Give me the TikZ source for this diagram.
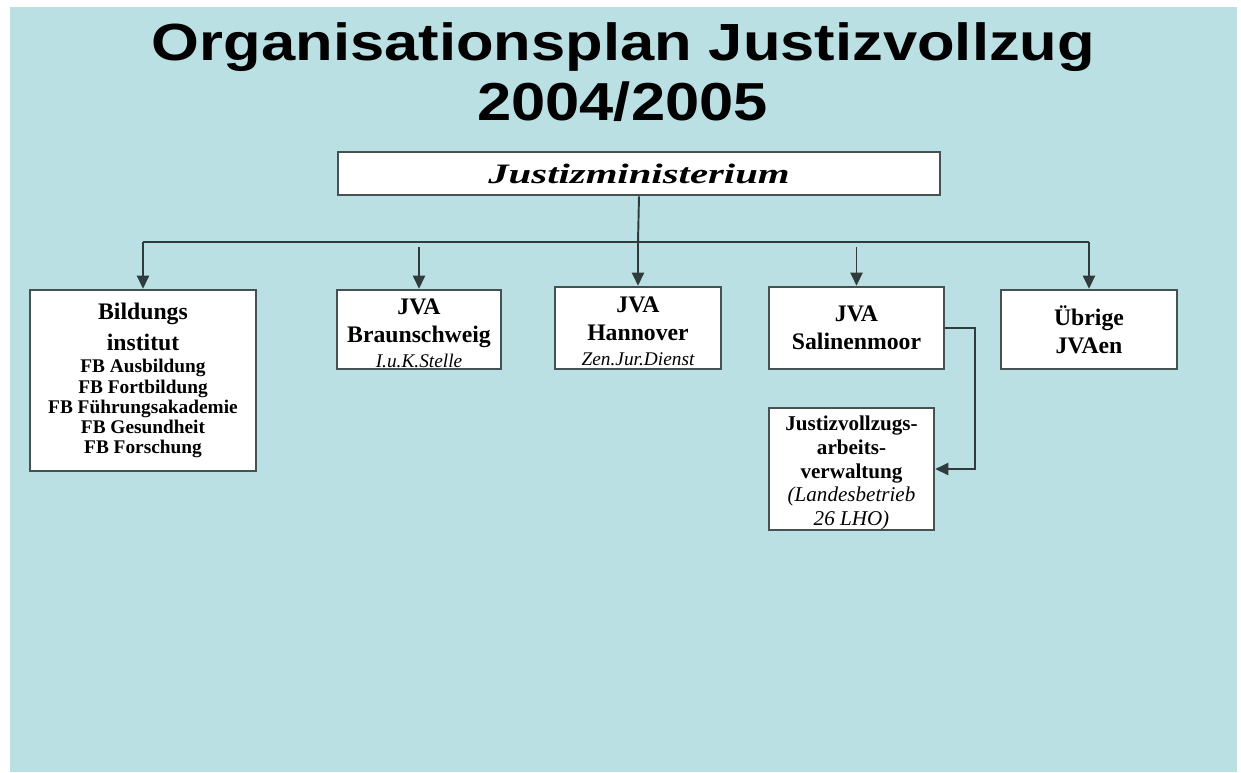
\documentclass[tikz,border=0pt]{standalone}
\usepackage{fontspec}
\setmainfont{Liberation Serif}
\newfontfamily\headfont{Liberation Sans}
\usepackage{graphicx}
\usepackage{tikz}
\usetikzlibrary{arrows.meta,positioning}
\definecolor{slide}{HTML}{BBE0E3}
\definecolor{linegray}{HTML}{2F3B3D}
\definecolor{rimgray}{HTML}{465153}
\newcommand{\sublabel}[2][11]{{\mdseries\itshape\fontsize{#1}{#1}\selectfont #2}}
\newcommand{\topgap}[1]{\rule{0pt}{#1}}

\begin{document}
\begin{tikzpicture}[x=0.02cm,y=-0.02cm,
  box/.style={draw=rimgray,line width=1.5pt,fill=white,align=center,inner sep=0pt,
    font=\bfseries\fontsize{13.5}{16}\selectfont},
  heading/.style={font=\headfont\bfseries\fontsize{35}{35}\selectfont,anchor=base,inner sep=0pt},
  wire/.style={draw=linegray,line width=1.1pt},
  arr/.style={color=linegray,line width=1.1pt,-{Triangle[length=7.5pt,width=7pt]}}]
  \useasboundingbox (0,0) rectangle (1241,772);
  \fill[slide] (10,7) rectangle (1237,772);
  % title
  \node[heading] (title) at (623.5,60) {\scalebox{1}[0.85]{Organisationsplan Justizvollzug}};
  \node[heading] (year) at (622.5,120) {\scalebox{1}[0.87]{2004/2005}};
  % boxes
  \node[box,minimum width=12.04cm,minimum height=0.86cm,
    font=\bfseries\itshape\fontsize{16}{18}\selectfont] (jm) at (639,173.5)
    {\scalebox{1.45}[1]{Justizministerium}};
  \node[box,minimum width=4.52cm,minimum height=3.62cm,
    font=\bfseries\fontsize{11}{11.5}\selectfont] (bild) at (143,380.5)
    {{\fontsize{13.5}{16}\selectfont Bildungs}\\[4pt]{\fontsize{13.5}{16}\selectfont institut}\\[1.5pt]FB Ausbildung\\FB Fortbildung\\FB Führungsakademie\\FB Gesundheit\\FB Forschung};
  \node[box,minimum width=3.28cm,minimum height=1.58cm] (bs) at (419,329.5)
    {\topgap{13.5pt}JVA\\Braunschweig\\[-2pt]\sublabel{I.u.K.Stelle}};
  \node[box,minimum width=3.32cm,minimum height=1.64cm] (han) at (638,328)
    {\topgap{12.5pt}JVA\\Hannover\\[-2pt]\sublabel{Zen.Jur.Dienst}};
  \node[box,minimum width=3.5cm,minimum height=1.64cm] (sal) at (856.5,328)
    {JVA\\Salinenmoor};
  \node[box,minimum width=3.52cm,minimum height=1.58cm] (uebr) at (1089,329.5)
    {Übrige\\JVAen};
  \node[box,minimum width=3.3cm,minimum height=2.44cm,
    font=\bfseries\fontsize{12}{13.5}\selectfont] (jvav) at (851.5,469)
    {\topgap{12.8pt}Justizvollzugs-\\arbeits-\\verwaltung\\\sublabel[12]{(Landesbetrieb}\\\sublabel[12]{26 LHO)}};
  % connectors
  \coordinate (bus) at (638,242);
  \draw[wire] (jm.south) -- (bus);
  \draw[wire] (bild.north |- bus) -- (uebr.north |- bus);
  \path[arr]
  (bild.north |- bus) edge (bild.north)
  ([yshift=-0.1cm]bs.north |- bus) edge (bs.north)
  (bus) edge (han.north)
  ([yshift=-0.1cm]sal.north |- bus) edge (sal.north)
  (uebr.north |- bus) edge (uebr.north)
  ;
  \draw[arr] (sal.east) -- ++(30,0) |- (jvav.east);
\end{tikzpicture}
\end{document}
